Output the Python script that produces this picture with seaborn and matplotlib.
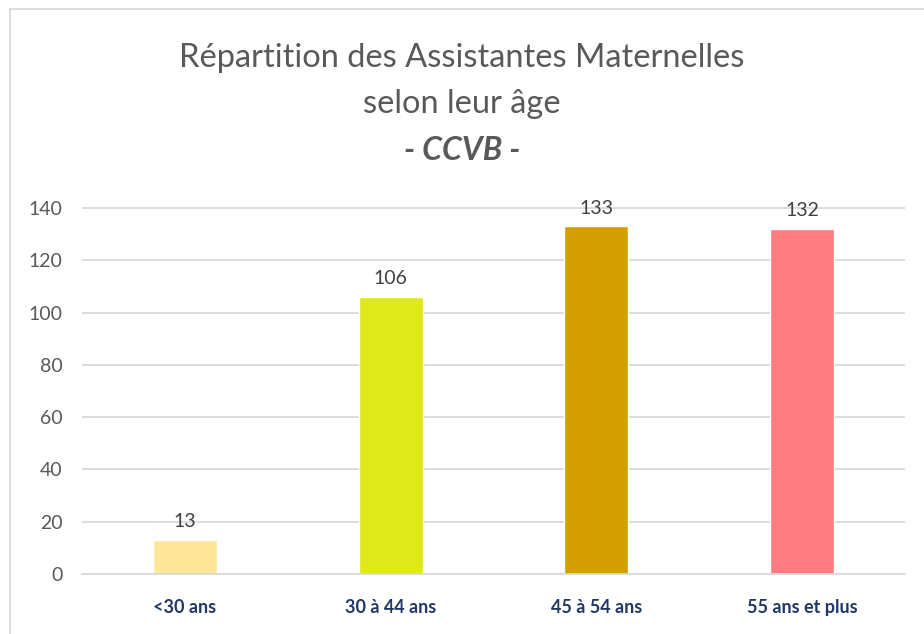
import matplotlib
matplotlib.use("Agg")
import matplotlib.pyplot as plt
import seaborn as sns
import pandas as pd

# tranches d'age + nombre d'assistantes maternelles
tranches = ["<30 ans", "30 à 44 ans", "45 à 54 ans", "55 ans et plus"]
effectifs = [13, 106, 133, 132]
couleurs = ["#FFE699", "#DEE81A", "#D4A000", "#FF7C80"]

df = pd.DataFrame({"Tranche": tranches, "Effectif": effectifs})

sns.set_theme(style="white")
plt.rcParams["font.family"] = ["Lato", "DejaVu Sans"]

fig = plt.figure(figsize=(9.24, 6.34), dpi=100)
ax = fig.add_axes([82 / 924, 1 - 574 / 634, (905 - 82) / 924, (574 - 190) / 634])

sns.barplot(data=df, x="Tranche", y="Effectif", hue="Tranche", palette=couleurs,
            width=0.31, legend=False, ax=ax, saturation=1)

ax.set_ylim(0, 140 * 384 / 366)
ax.set_yticks(range(0, 141, 20))
ax.yaxis.grid(True, color="#D9D9D9", linewidth=1.3)
ax.set_axisbelow(True)
for s in ["top", "right", "left"]:
    ax.spines[s].set_visible(False)
ax.spines["bottom"].set_color("#D9D9D9")
ax.spines["bottom"].set_linewidth(1.3)
ax.set_xlabel("")
ax.set_ylabel("")
ax.tick_params(axis="y", labelsize=14, colors="#595959", length=0, pad=14)
ax.tick_params(axis="x", length=0, pad=18)
for lbl in ax.get_xticklabels():
    lbl.set_fontsize(13)
    lbl.set_fontweight("bold")
    lbl.set_color("#1F3864")

# valeurs au dessus des barres
for i, v in enumerate(effectifs):
    ax.annotate(str(v), (i, v), xytext=(0, 7), textcoords="offset points",
                ha="center", va="bottom", fontsize=14, color="#404040")

# titre
fig.text(0.5, 1 - 58 / 634, "Répartition des Assistantes Maternelles", ha="center",
         va="center", fontsize=23.5, color="#595959")
fig.text(0.5, 1 - 104 / 634, "selon leur âge", ha="center", va="center",
         fontsize=23.5, color="#595959")
fig.text(0.5, 1 - 151 / 634, "- CCVB -", ha="center", va="center",
         fontsize=23, color="#595959", fontweight="bold", style="italic")

# cadre du graphique
fig.add_artist(plt.Line2D([10 / 924, 10 / 924], [0, 1 - 9 / 634], color="#D9D9D9", lw=1.3))
fig.add_artist(plt.Line2D([10 / 924, 1], [1 - 9 / 634, 1 - 9 / 634], color="#D9D9D9", lw=1.3))

fig.savefig("out.png", dpi=100)
